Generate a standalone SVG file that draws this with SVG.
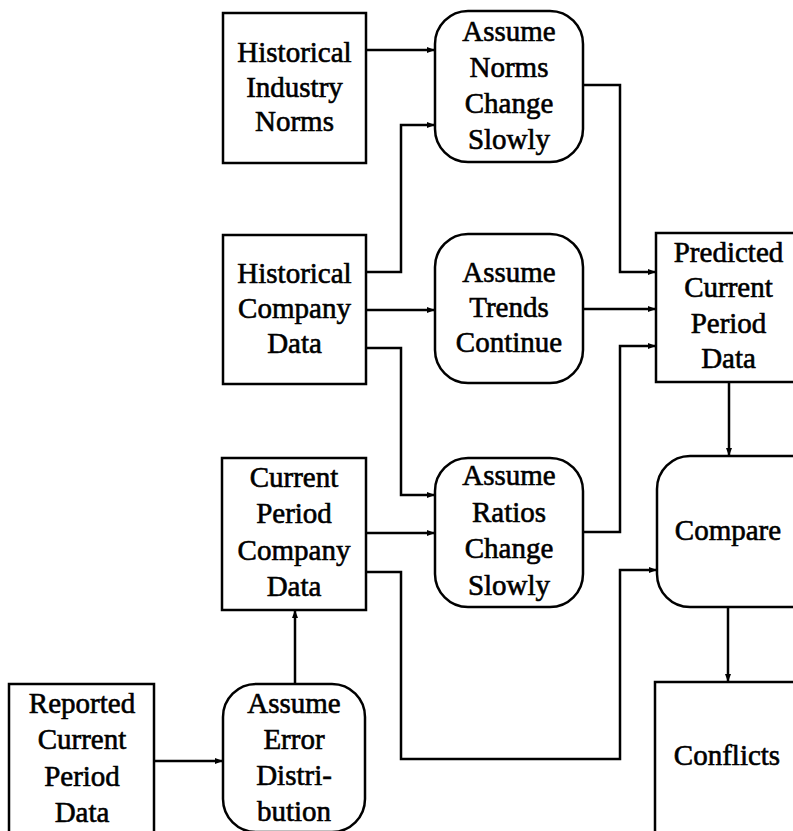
<svg xmlns="http://www.w3.org/2000/svg" width="793" height="831" viewBox="0 0 793 831">
<style>
.box{fill:#fff;stroke:#000;stroke-width:2.5}
.t{font-family:"Liberation Serif","Times New Roman",serif;font-size:29px;fill:#000;stroke:#000;stroke-width:0.6;text-anchor:middle}
.c{fill:none;stroke:#000;stroke-width:2.5;stroke-linejoin:miter}
</style>
<defs>
<marker id="ah" markerWidth="9" markerHeight="7" refX="8" refY="3.5" orient="auto" markerUnits="userSpaceOnUse">
<path d="M0,0.5 L8,3.5 L0,6.5 Z" fill="#000"/>
</marker>
</defs>
<rect width="793" height="831" fill="#fff"/>
<g id="connectors">
<path class="c" d="M366,50 H435" marker-end="url(#ah)"/>
<path class="c" d="M366,272 H401 V125 H435" marker-end="url(#ah)"/>
<path class="c" d="M366,310 H435" marker-end="url(#ah)"/>
<path class="c" d="M366,348 H401 V495 H435" marker-end="url(#ah)"/>
<path class="c" d="M366,533 H435" marker-end="url(#ah)"/>
<path class="c" d="M583,85 H620 V272 H656" marker-end="url(#ah)"/>
<path class="c" d="M583,309 H656" marker-end="url(#ah)"/>
<path class="c" d="M583,532 H620 V346 H656" marker-end="url(#ah)"/>
<path class="c" d="M729,382 V456" marker-end="url(#ah)"/>
<path class="c" d="M366,572 H401 V759 H620 V570 H657" marker-end="url(#ah)"/>
<path class="c" d="M728,607 V682" marker-end="url(#ah)"/>
<path class="c" d="M154,761 H223" marker-end="url(#ah)"/>
<path class="c" d="M295,684 V610" marker-end="url(#ah)"/>
</g>
<g id="historical-industry-norms">
<rect class="box" x="223" y="13" width="143" height="150"/>
<text class="t" x="294.5" y="62">Historical</text>
<text class="t" x="294.5" y="96.5">Industry</text>
<text class="t" x="294.5" y="131">Norms</text>
</g>
<g id="assume-norms">
<rect class="box" x="435" y="11" width="148" height="151" rx="33"/>
<text class="t" x="509" y="41">Assume</text>
<text class="t" x="509" y="77">Norms</text>
<text class="t" x="509" y="113">Change</text>
<text class="t" x="509" y="149">Slowly</text>
</g>
<g id="historical-company-data">
<rect class="box" x="223" y="235" width="143" height="149"/>
<text class="t" x="294.5" y="283">Historical</text>
<text class="t" x="294.5" y="318">Company</text>
<text class="t" x="294.5" y="353">Data</text>
</g>
<g id="assume-trends">
<rect class="box" x="435" y="234" width="148" height="149" rx="33"/>
<text class="t" x="509" y="282">Assume</text>
<text class="t" x="509" y="317">Trends</text>
<text class="t" x="509" y="352">Continue</text>
</g>
<g id="predicted">
<rect class="box" x="656" y="233" width="150" height="149"/>
<text class="t" x="728.5" y="262">Predicted</text>
<text class="t" x="728.5" y="297">Current</text>
<text class="t" x="728.5" y="333">Period</text>
<text class="t" x="728.5" y="368">Data</text>
</g>
<g id="current-period-company-data">
<rect class="box" x="222" y="458" width="144" height="152"/>
<text class="t" x="294" y="487">Current</text>
<text class="t" x="294" y="523">Period</text>
<text class="t" x="294" y="560">Company</text>
<text class="t" x="294" y="596">Data</text>
</g>
<g id="assume-ratios">
<rect class="box" x="435" y="458" width="148" height="149" rx="33"/>
<text class="t" x="509" y="485">Assume</text>
<text class="t" x="509" y="522">Ratios</text>
<text class="t" x="509" y="558">Change</text>
<text class="t" x="509" y="595">Slowly</text>
</g>
<g id="compare">
<rect class="box" x="657" y="456" width="170" height="151" rx="33"/>
<text class="t" x="728" y="540">Compare</text>
</g>
<g id="conflicts">
<rect class="box" x="655" y="682" width="200" height="200"/>
<text class="t" x="727" y="765">Conflicts</text>
</g>
<g id="reported">
<rect class="box" x="9" y="684" width="145" height="200"/>
<text class="t" x="82" y="713">Reported</text>
<text class="t" x="82" y="749">Current</text>
<text class="t" x="82" y="786">Period</text>
<text class="t" x="82" y="822">Data</text>
</g>
<g id="assume-error">
<rect class="box" x="223" y="684" width="142" height="148" rx="33"/>
<text class="t" x="294" y="713">Assume</text>
<text class="t" x="294" y="749">Error</text>
<text class="t" x="294" y="785">Distri-</text>
<text class="t" x="294" y="821">bution</text>
</g>
</svg>
